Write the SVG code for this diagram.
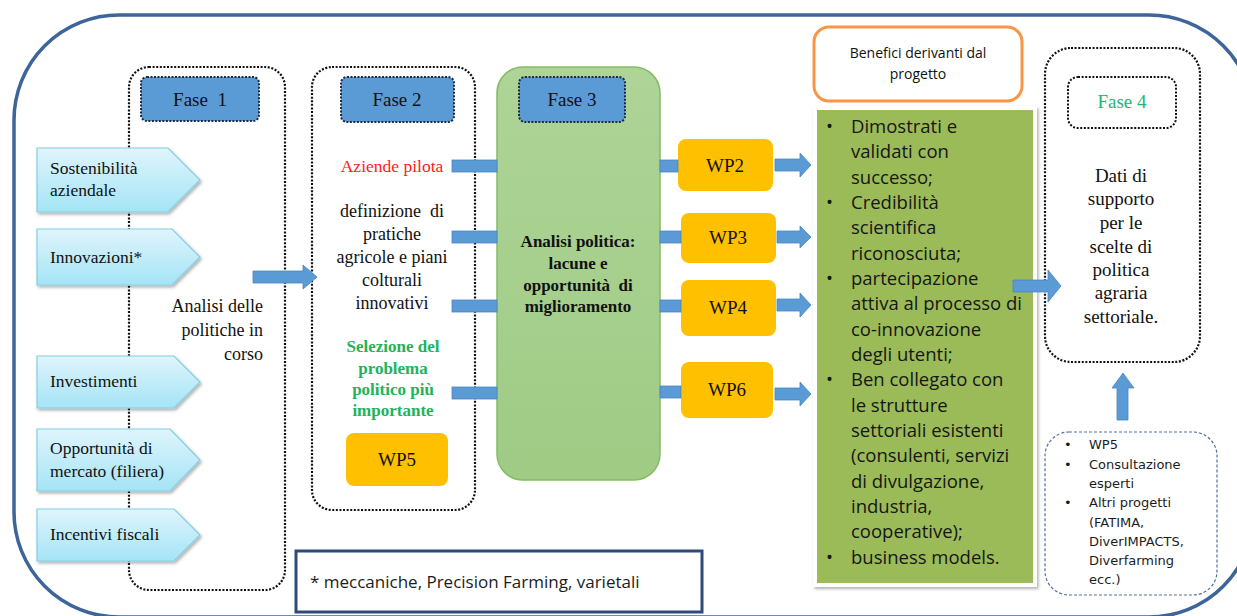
<svg xmlns="http://www.w3.org/2000/svg" width="1237" height="616" viewBox="0 0 1237 616">
<defs>
<style>
.serif{font-family:"Liberation Serif","Times New Roman",serif;fill:#111}
.sans{font-family:"Open Sans","Liberation Sans",sans-serif;fill:#1c1c1c}
.dots{fill:none;stroke:#111;stroke-width:2.2;stroke-dasharray:2 1.6}
.fase{fill:#5B9BD5;stroke:#1d2c44;stroke-width:2;stroke-dasharray:2 1.5}
.wp{fill:#FFC000}
.bar{fill:#5B9BD5;stroke:#4a86c0;stroke-width:0.8}
.pent{fill:url(#cyan);stroke:#86cde2;stroke-width:1.2;filter:url(#sh)}
</style>
<linearGradient id="cyan" x1="0" y1="0" x2="0" y2="1">
<stop offset="0" stop-color="#DFF5FC"/>
<stop offset="1" stop-color="#A4E4F6"/>
</linearGradient>
<linearGradient id="g3" x1="0" y1="0" x2="0" y2="1">
<stop offset="0" stop-color="#AED497"/>
<stop offset="1" stop-color="#9FCB85"/>
</linearGradient>
<filter id="sh" x="-10%" y="-10%" width="125%" height="130%">
<feDropShadow dx="1.5" dy="2" stdDeviation="1.5" flood-color="#000" flood-opacity="0.3"/>
</filter>
</defs>
<rect width="1237" height="616" fill="#fff"/>

<g id="frame">
<rect x="14" y="15" width="1240" height="602" rx="105" ry="105" fill="none" stroke="#3D6599" stroke-width="3.5"/>
</g>

<g id="fase1">
<rect class="dots" x="129" y="67" width="156" height="523" rx="20"/>
<rect class="fase" x="141" y="77" width="118" height="44" rx="6"/>
<text class="serif" x="200" y="106" font-size="19" text-anchor="middle" xml:space="preserve">Fase  1</text>
<text class="serif" font-size="18" text-anchor="end"><tspan x="263" y="312">Analisi  delle</tspan><tspan x="263" y="336">politiche in</tspan><tspan x="263" y="360">corso</tspan></text>
</g>

<g id="sostenibilita">
<path class="pent" d="M37,148 L168,148 L200,180 L168,212 L37,212 Z"/>
<text class="serif" font-size="17.5"><tspan x="50" y="174">Sostenibilità</tspan><tspan x="50" y="196">aziendale</tspan></text>
</g>
<g id="innovazioni">
<path class="pent" d="M37,229 L172,229 L200,257 L172,285 L37,285 Z"/>
<text class="serif" x="50" y="263" font-size="17.5">Innovazioni*</text>
</g>
<g id="investimenti">
<path class="pent" d="M37,356 L174,356 L200,382 L174,408 L37,408 Z"/>
<text class="serif" x="50" y="387" font-size="17.5">Investimenti</text>
</g>
<g id="opportunita">
<path class="pent" d="M37,429 L170,429 L200,460 L170,491 L37,491 Z"/>
<text class="serif" font-size="17.5"><tspan x="50" y="454">Opportunità di</tspan><tspan x="50" y="477">mercato (filiera)</tspan></text>
</g>
<g id="incentivi">
<path class="pent" d="M37,509 L174,509 L200,535 L174,561 L37,561 Z"/>
<text class="serif" x="50" y="540" font-size="17.5">Incentivi fiscali</text>
</g>

<g id="fase2">
<rect class="dots" x="312" y="67" width="163" height="443" rx="20"/>
<rect class="fase" x="341" y="77" width="113" height="45" rx="6"/>
<text class="serif" x="397" y="106" font-size="19" text-anchor="middle">Fase 2</text>
<text class="serif" x="392" y="172" font-size="17.5" text-anchor="middle" style="fill:#FF1A1A">Aziende pilota</text>
<text class="serif" font-size="18" text-anchor="middle" xml:space="preserve"><tspan x="392" y="217">definizione  di</tspan><tspan x="392" y="240">pratiche</tspan><tspan x="392" y="263">agricole e piani</tspan><tspan x="392" y="286">colturali</tspan><tspan x="392" y="309">innovativi</tspan></text>
<text class="serif" font-size="17" font-weight="bold" text-anchor="middle" style="fill:#22B35A"><tspan x="393" y="352">Selezione del</tspan><tspan x="393" y="374">problema</tspan><tspan x="393" y="395">politico più</tspan><tspan x="393" y="416">importante</tspan></text>
</g>
<g id="wp5">
<rect class="wp" x="346" y="433" width="102" height="53" rx="8"/>
<text class="serif" x="397" y="466" font-size="19" text-anchor="middle">WP5</text>
</g>

<g id="fase3">
<rect x="497" y="67" width="163" height="413" rx="26" fill="url(#g3)" stroke="#84BC63" stroke-width="1.5"/>
<rect class="fase" x="519" y="77" width="106" height="45" rx="6"/>
<text class="serif" x="572" y="106" font-size="19" text-anchor="middle">Fase 3</text>
<text class="serif" font-size="17" font-weight="bold" text-anchor="middle" xml:space="preserve"><tspan x="578" y="247">Analisi politica:</tspan><tspan x="578" y="269">lacune e</tspan><tspan x="578" y="291">opportunità  di</tspan><tspan x="578" y="312">miglioramento</tspan></text>
</g>

<g id="wp2">
<rect class="wp" x="678" y="139" width="95" height="52" rx="8"/>
<text class="serif" x="725" y="172" font-size="19" text-anchor="middle">WP2</text>
</g>
<g id="wp3">
<rect class="wp" x="681" y="213" width="95" height="50" rx="8"/>
<text class="serif" x="728" y="244" font-size="19" text-anchor="middle">WP3</text>
</g>
<g id="wp4">
<rect class="wp" x="681" y="280" width="95" height="56" rx="8"/>
<text class="serif" x="728" y="314" font-size="19" text-anchor="middle">WP4</text>
</g>
<g id="wp6">
<rect class="wp" x="681" y="362" width="92" height="56" rx="8"/>
<text class="serif" x="727" y="396" font-size="19" text-anchor="middle">WP6</text>
</g>

<g id="benefici-title">
<rect x="814" y="27" width="208" height="74" rx="15" fill="#fff" stroke="#F79646" stroke-width="3"/>
<text class="sans" font-size="14" text-anchor="middle" style="fill:#111"><tspan x="918" y="58">Benefici derivanti dal</tspan><tspan x="918" y="79">progetto</tspan></text>
</g>

<g id="benefici-list">
<rect x="813" y="106" width="224" height="481" fill="#fff" filter="url(#sh)"/>
<rect x="817" y="110" width="216" height="473" fill="#9BBB59"/>
<text class="sans" font-size="18.5" style="fill:#161616">
<tspan x="826" y="133">•</tspan><tspan x="851" y="133">Dimostrati e</tspan>
<tspan x="851" y="158">validati con</tspan>
<tspan x="851" y="184">successo;</tspan>
<tspan x="826" y="209">•</tspan><tspan x="851" y="209">Credibilità</tspan>
<tspan x="851" y="234">scientifica</tspan>
<tspan x="851" y="260">riconosciuta;</tspan>
<tspan x="826" y="285">•</tspan><tspan x="851" y="285">partecipazione</tspan>
<tspan x="851" y="310">attiva al processo di</tspan>
<tspan x="851" y="336">co-innovazione</tspan>
<tspan x="851" y="361">degli utenti;</tspan>
<tspan x="826" y="386">•</tspan><tspan x="851" y="386">Ben collegato con</tspan>
<tspan x="851" y="412">le strutture</tspan>
<tspan x="851" y="437">settoriali esistenti</tspan>
<tspan x="851" y="462">(consulenti, servizi</tspan>
<tspan x="851" y="488">di divulgazione,</tspan>
<tspan x="851" y="513">industria,</tspan>
<tspan x="851" y="538">cooperative);</tspan>
<tspan x="826" y="564">•</tspan><tspan x="851" y="564">business models.</tspan>
</text>
</g>

<g id="fase4">
<rect class="dots" x="1045" y="48" width="155" height="314" rx="26"/>
<rect class="dots" x="1068" y="77" width="108" height="51" rx="10" style="stroke-width:2"/>
<text class="serif" x="1122" y="108" font-size="19" text-anchor="middle" style="fill:#22B573">Fase 4</text>
<text class="serif" font-size="19" text-anchor="middle"><tspan x="1121" y="182">Dati di</tspan><tspan x="1121" y="205">supporto</tspan><tspan x="1121" y="229">per le</tspan><tspan x="1121" y="253">scelte di</tspan><tspan x="1121" y="276">politica</tspan><tspan x="1121" y="299">agraria</tspan><tspan x="1121" y="323">settoriale.</tspan></text>
</g>

<g id="fonti">
<rect x="1045" y="432" width="172" height="163" rx="24" fill="#fff" stroke="#4E6E9E" stroke-width="1.2" stroke-dasharray="3 2"/>
<text font-family="DejaVu Sans, Verdana, sans-serif" font-size="13" fill="#1c1c1c">
<tspan x="1064" y="449">•</tspan><tspan x="1089" y="449">WP5</tspan>
<tspan x="1064" y="469">•</tspan><tspan x="1089" y="469">Consultazione</tspan>
<tspan x="1089" y="488">esperti</tspan>
<tspan x="1064" y="507">•</tspan><tspan x="1089" y="507">Altri progetti</tspan>
<tspan x="1089" y="527">(FATIMA,</tspan>
<tspan x="1089" y="546">DiverIMPACTS,</tspan>
<tspan x="1089" y="565">Diverfarming</tspan>
<tspan x="1089" y="584">ecc.)</tspan>
</text>
</g>

<g id="nota">
<rect x="296" y="551" width="406" height="61" fill="#fff" stroke="#2E4A7A" stroke-width="3"/>
<text class="sans" x="310" y="588" font-size="17">* meccaniche, Precision Farming, varietali</text>
</g>

<g id="connectors">
<rect class="bar" x="452" y="160" width="45" height="12"/>
<rect class="bar" x="452" y="231" width="45" height="12"/>
<rect class="bar" x="452" y="300" width="45" height="12"/>
<rect class="bar" x="452" y="387" width="45" height="12"/>
<rect class="bar" x="660" y="160" width="18" height="12"/>
<rect class="bar" x="660" y="231" width="21" height="12"/>
<rect class="bar" x="660" y="300" width="21" height="12"/>
<rect class="bar" x="660" y="386" width="21" height="12"/>
<path class="bar" d="M253,271 L303,271 L303,265 L317,277 L303,289 L303,283 L253,283 Z"/>
<path class="bar" d="M775,159 L800,159 L800,153 L811,165 L800,177 L800,171 L775,171 Z"/>
<path class="bar" d="M777,231 L800,231 L800,226 L811,237 L800,248 L800,243 L777,243 Z"/>
<path class="bar" d="M777,299 L800,299 L800,293 L811,305 L800,317 L800,311 L777,311 Z"/>
<path class="bar" d="M775,388 L800,388 L800,382 L811,394 L800,406 L800,400 L775,400 Z"/>
<path class="bar" d="M1013,280 L1048,280 L1048,270 L1061,286 L1048,302 L1048,292 L1013,292 Z"/>
<path class="bar" d="M1117,420 L1117,388 L1112,388 L1123,373 L1134,388 L1128,388 L1128,420 Z"/>
</g>
</svg>
